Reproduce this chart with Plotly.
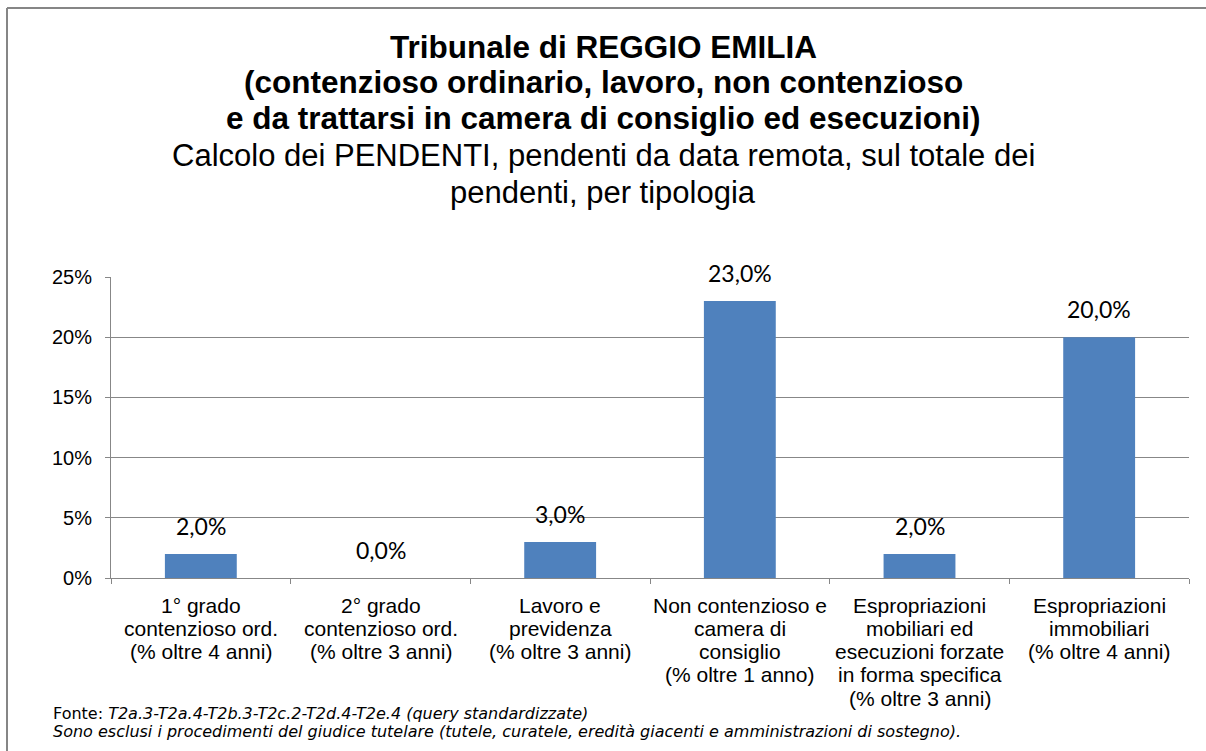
import plotly.graph_objects as go

category_lines = [
    ["1° grado", "contenzioso ord.", "(% oltre 4 anni)"],
    ["2° grado", "contenzioso ord.", "(% oltre 3 anni)"],
    ["Lavoro e", "previdenza", "(% oltre 3 anni)"],
    ["Non contenzioso e", "camera di", "consiglio", "(% oltre 1 anno)"],
    ["Espropriazioni", "mobiliari ed", "esecuzioni forzate", "in forma specifica", "(% oltre 3 anni)"],
    ["Espropriazioni", "immobiliari", "(% oltre 4 anni)"],
]
categories = ["<br>".join(c) for c in category_lines]
values = [0.02, 0.0, 0.03, 0.23, 0.02, 0.20]
value_labels = ["2,0%", "0,0%", "3,0%", "23,0%", "2,0%", "20,0%"]
y_tickvals = [0, 0.05, 0.10, 0.15, 0.20, 0.25]
y_ticktext = ["0%", "5%", "10%", "15%", "20%", "25%"]

title_lines_bold = [
    "Tribunale di REGGIO EMILIA",
    "(contenzioso ordinario, lavoro, non contenzioso",
    "e da trattarsi in camera di consiglio ed esecuzioni)",
]
title_lines_regular = [
    "Calcolo dei PENDENTI, pendenti da data remota, sul totale dei",
    "pendenti, per tipologia",
]
footer_lines = [
    "Fonte: <i>T2a.3-T2a.4-T2b.3-T2c.2-T2d.4-T2e.4 (query standardizzate)</i>",
    "<i>Sono esclusi i procedimenti del giudice tutelare (tutele, curatele, eredità giacenti e amministrazioni di sostegno).</i>",
]

W, H = 1206, 751
ML, MR, MT, MB = 111, 17, 277, 173
PW, PH = W - ML - MR, H - MT - MB


def px_x(x):
    return (x - ML) / PW


def px_y(y):
    return 1 - (y - MT) / PH


ARIAL = "Liberation Sans, Arial, sans-serif"
GRID = "#878787"

fig = go.Figure()
fig.add_trace(go.Bar(
    x=categories, y=values, width=0.4,
    marker=dict(color="#4F81BD", line=dict(width=0)),
    hoverinfo="skip",
))

# data labels
for c, v, t in zip(categories, values, value_labels):
    fig.add_annotation(x=c, y=v, xref="x", yref="y", text=t, showarrow=False,
                       yanchor="middle", yshift=28,
                       font=dict(family="Lato, Carlito, sans-serif", size=23, color="#000000"))

# category labels (one annotation per line, anchored at the category)
for c, lines in zip(categories, category_lines):
    for i, ln in enumerate(lines):
        fig.add_annotation(x=c, y=0, xref="x", yref="y", text=ln, showarrow=False,
                           xanchor="center", yanchor="middle", yshift=-(27 + 23.25 * i),
                           font=dict(family=ARIAL, size=21, color="#000000"))

# titles
for t, yy in zip(title_lines_bold, [47, 82, 118]):
    fig.add_annotation(x=px_x(603), y=px_y(yy), xref="paper", yref="paper", text="<b>" + t + "</b>",
                       showarrow=False, xanchor="center", yanchor="middle",
                       font=dict(family=ARIAL, size=31.5, color="#000000"))
for t, yy in zip(title_lines_regular, [156, 192]):
    fig.add_annotation(x=px_x(603), y=px_y(yy), xref="paper", yref="paper", text=t,
                       showarrow=False, xanchor="center", yanchor="middle",
                       font=dict(family=ARIAL, size=31, color="#000000"))
# footer
for t, yy in zip(footer_lines, [713, 731]):
    fig.add_annotation(x=px_x(51), y=px_y(yy), xref="paper", yref="paper", text=t,
                       showarrow=False, xanchor="left", yanchor="middle",
                       font=dict(family="DejaVu Sans, Verdana, sans-serif", size=16, color="#000000"))

fig.update_layout(
    width=W, height=H,
    margin=dict(l=ML, r=MR, t=MT, b=MB, pad=0),
    paper_bgcolor="white", plot_bgcolor="white",
    showlegend=False,
    xaxis=dict(
        showgrid=False, showline=True, linecolor=GRID, linewidth=1,
        ticks="outside", ticklen=5, tickcolor=GRID, tickson="boundaries",
        showticklabels=False, fixedrange=True,
    ),
    yaxis=dict(
        range=[0, 0.25], tickvals=y_tickvals, ticktext=y_ticktext,
        showgrid=True, gridcolor=GRID, gridwidth=1,
        showline=True, linecolor=GRID, linewidth=1,
        ticks="outside", ticklen=5, tickcolor=GRID,
        tickfont=dict(family=ARIAL, size=20, color="#000000"),
        ticklabelstandoff=9, zeroline=False, fixedrange=True,
    ),
    shapes=[
        dict(type="line", xref="paper", yref="paper", x0=px_x(7), x1=px_x(1210),
             y0=px_y(8), y1=px_y(8), line=dict(color="#868686", width=2)),
        dict(type="line", xref="paper", yref="paper", x0=px_x(7), x1=px_x(7),
             y0=px_y(8), y1=px_y(760), line=dict(color="#868686", width=2)),
    ],
)

fig.write_html("out.html", config={"displayModeBar": False},
               post_script="document.body.style.margin='0px';")
